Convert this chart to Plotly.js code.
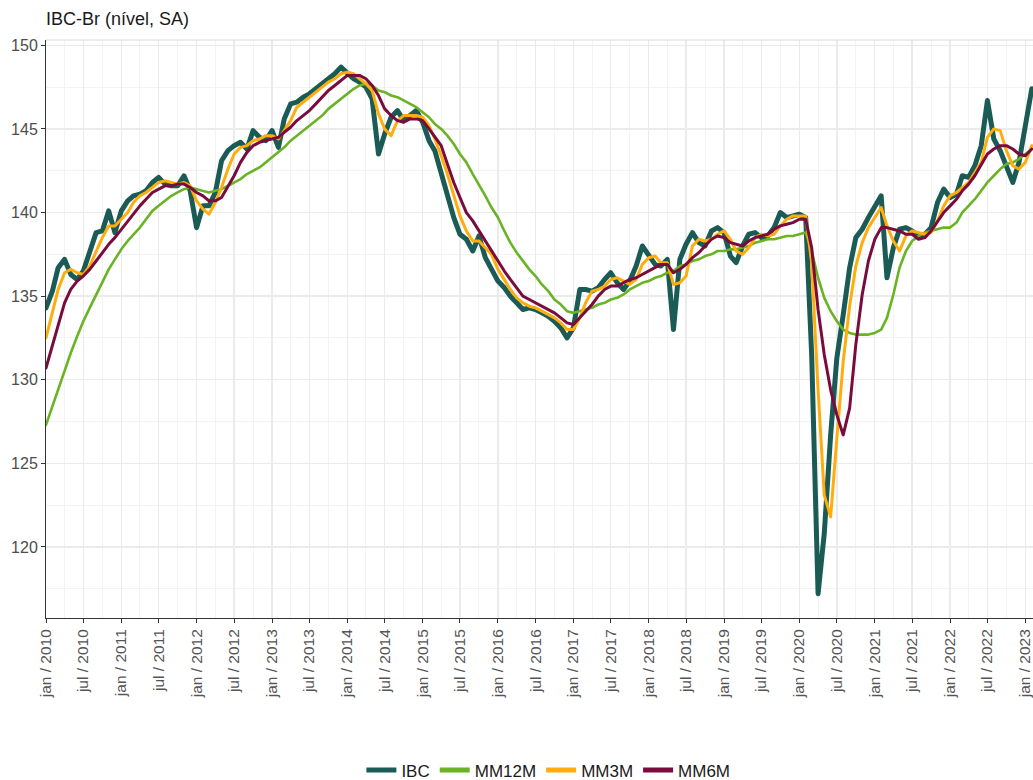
<!DOCTYPE html>
<html>
<head>
<meta charset="utf-8">
<script src="https://cdn.plot.ly/plotly-3.0.1.min.js"></script>
<style>
  html, body { margin: 0; padding: 0; background: #ffffff; }
  #chart { width: 1033px; height: 780px; }
  .scatterlayer path.js-line { stroke-linejoin: round; stroke-linecap: round; }
</style>
</head>
<body>
<div id="chart"></div>
<script>
// ---- Data (monthly, jan/2010 .. feb/2023) ----
const startYear = 2010;
const nMonths = 158;

const ibc = [
  134.3,135.3,136.7,137.2,136.3,136.0,136.5,137.6,138.8,138.9,140.1,138.8,
  140.1,140.7,141.0,141.1,141.3,141.8,142.1,141.7,141.6,141.6,142.2,141.3,
  139.1,140.4,140.4,141.2,143.1,143.7,144.0,144.2,143.8,144.9,144.5,144.3,
  144.9,143.9,145.6,146.5,146.6,146.9,147.1,147.4,147.7,148.0,148.3,148.7,
  148.3,148.0,147.8,147.5,146.8,143.5,144.7,145.7,146.1,145.5,145.8,146.1,
  145.4,144.3,143.7,142.4,140.9,139.7,138.7,138.4,137.7,138.6,137.3,136.6,
  135.9,135.5,135.0,134.6,134.2,134.3,134.2,134.0,133.8,133.5,133.1,132.5,
  133.1,135.4,135.4,135.3,135.5,136.0,136.4,135.8,135.4,135.9,136.8,138.0,
  137.4,136.9,136.8,137.2,133.0,137.2,138.1,138.8,138.2,138.0,138.9,139.1,
  138.8,137.4,137.0,138.0,138.7,138.8,138.5,138.6,139.1,140.0,139.7,139.8,
  139.9,139.7,131.5,117.2,120.8,126.7,131.3,133.9,136.7,138.5,139.0,139.7,
  140.4,141.0,136.1,137.9,139.0,139.1,138.9,138.6,138.7,139.1,140.6,141.4,
  140.9,141.1,142.2,142.1,142.8,144.0,146.7,144.4,143.7,142.8,141.8,143.0,
  145.4,147.4
];

const mm12m = [
  127.3,128.4,129.5,130.6,131.6,132.6,133.5,134.3,135.1,135.9,136.6,137.2,
  137.8,138.3,138.7,139.1,139.6,140.1,140.4,140.7,141.0,141.2,141.4,141.5,
  141.4,141.3,141.2,141.3,141.4,141.6,141.8,142.0,142.3,142.5,142.7,143.0,
  143.3,143.6,143.9,144.3,144.6,144.9,145.2,145.5,145.8,146.2,146.5,146.8,
  147.1,147.4,147.6,147.7,147.6,147.3,147.2,147.0,146.9,146.7,146.5,146.3,
  146.0,145.7,145.3,145.0,144.6,144.1,143.5,143.0,142.3,141.7,141.0,140.3,
  139.7,138.9,138.2,137.6,137.1,136.6,136.2,135.7,135.3,134.8,134.5,134.1,
  134.0,134.1,134.2,134.3,134.5,134.6,134.8,134.9,135.1,135.4,135.6,135.8,
  135.9,136.1,136.2,136.4,136.5,136.8,136.9,137.1,137.2,137.4,137.5,137.7,
  137.7,137.8,137.8,137.9,138.0,138.2,138.3,138.4,138.4,138.5,138.6,138.6,
  138.7,138.8,137.7,136.1,134.9,134.1,133.5,133.0,132.8,132.7,132.7,132.7,
  132.8,133.0,133.7,135.1,136.7,137.7,138.3,138.6,138.8,138.9,139.0,139.1,
  139.1,139.4,140.0,140.4,140.8,141.3,141.8,142.2,142.6,142.9,143.0,143.2,
  143.5,143.8
];

const mm3m = [
  132.5,134.0,135.4,136.4,136.6,136.4,136.3,136.8,137.7,138.5,139.2,139.2,
  139.6,140.0,140.6,141.0,141.2,141.5,141.8,141.9,141.8,141.7,141.8,141.6,
  140.7,140.2,139.9,140.6,141.5,142.6,143.5,143.9,144.0,144.3,144.4,144.6,
  144.6,144.4,144.9,145.5,146.3,146.6,146.9,147.2,147.5,147.8,148.0,148.3,
  148.4,148.3,148.0,147.7,147.3,145.9,145.0,144.6,145.5,145.8,145.8,145.8,
  145.7,145.2,144.4,143.4,142.3,141.0,139.8,138.9,138.3,138.3,137.9,137.5,
  136.6,136.0,135.4,134.9,134.6,134.4,134.3,134.1,133.9,133.7,133.4,133.0,
  133.0,133.7,134.6,135.3,135.4,135.6,136.0,136.1,135.9,135.7,136.0,136.9,
  137.3,137.4,137.0,137.0,135.7,135.8,136.2,138.0,138.4,138.3,138.4,138.7,
  138.9,138.4,137.7,137.5,137.9,138.5,138.7,138.6,138.7,139.2,139.6,139.8,
  139.8,139.8,137.0,129.4,123.1,121.8,126.5,131.1,134.4,136.8,138.2,139.1,
  139.7,140.3,139.2,138.3,137.7,138.6,138.9,138.8,138.7,138.8,139.5,140.4,
  141.0,141.2,141.5,141.8,142.4,143.0,144.5,145.0,144.9,143.7,142.8,142.6,
  143.0,144.0
];

const mm6m = [
  130.7,132.0,133.3,134.6,135.4,135.9,136.2,136.6,137.1,137.6,138.1,138.5,
  139.0,139.5,139.9,140.4,140.8,141.2,141.4,141.6,141.6,141.7,141.7,141.5,
  141.2,141.0,140.7,140.7,140.9,141.6,142.2,143.0,143.6,144.0,144.2,144.3,
  144.4,144.5,144.8,145.1,145.5,145.8,146.1,146.5,146.9,147.3,147.6,147.9,
  148.2,148.2,148.2,148.0,147.6,147.0,146.2,145.8,145.5,145.4,145.6,145.6,
  145.5,145.0,144.5,144.0,142.9,141.8,140.9,140.0,139.5,138.9,138.3,137.7,
  137.1,136.5,136.0,135.5,135.0,134.8,134.6,134.4,134.2,134.0,133.7,133.4,
  133.3,133.7,134.1,134.5,135.0,135.4,135.6,135.6,135.8,136.0,136.1,136.3,
  136.5,136.7,136.9,136.9,136.4,136.6,136.9,137.3,137.6,138.0,138.4,138.6,
  138.5,138.2,138.1,138.0,138.3,138.5,138.6,138.7,139.0,139.2,139.3,139.4,
  139.6,139.6,137.9,134.2,131.5,129.4,127.9,126.7,128.3,132.1,135.1,137.1,
  138.4,139.1,139.1,139.0,138.9,138.7,138.7,138.4,138.5,138.9,139.5,140.0,
  140.4,140.8,141.3,141.7,142.2,142.9,143.5,143.8,144.0,144.0,143.8,143.5,
  143.4,143.8
];

const seriesNames = ['IBC', 'MM12M', 'MM3M', 'MM6M'];
const tickMonths = ['jan', 'jul'];
const yTicks = [120, 125, 130, 135, 140, 145, 150];

// monthly date axis
const dates = [];
for (let i = 0; i < nMonths; i++) {
  const y = startYear + Math.floor(i / 12);
  const m = (i % 12) + 1;
  dates.push(y + '-' + String(m).padStart(2, '0') + '-01');
}
// tick labels "jan / 2010", "jul / 2010", ...
const tickVals = [], tickText = [];
for (let y = startYear; y <= 2023; y++) {
  tickMonths.forEach((mn, k) => {
    const d = y + '-' + (k === 0 ? '01' : '07') + '-01';
    if (d <= '2023-02-07') { tickVals.push(d); tickText.push(mn + ' / ' + y); }
  });
}

const colors = ['#1b5b55', '#69b324', '#ffad0d', '#7a0c3d'];
const widths = [5, 2.6, 3, 3];
const values = [ibc, mm12m, mm3m, mm6m];

const traces = values.map((v, i) => ({
  type: 'scatter', mode: 'lines', x: dates, y: v, name: seriesNames[i],
  line: { color: colors[i], width: widths[i] }, showlegend: false, hoverinfo: 'x+y+name'
}));
// legend entries (uniform thick swatches as in the original)
seriesNames.forEach((n, i) => traces.push({
  type: 'scatter', mode: 'lines', x: [null], y: [null], name: n,
  line: { color: colors[i], width: 5 }, showlegend: true
}));

const fontFam = '"Liberation Sans", Arial, sans-serif';
const layout = {
  width: 1033, height: 780,
  margin: { l: 46, r: 0, t: 40, b: 162, pad: 0, autoexpand: false },
  paper_bgcolor: '#ffffff', plot_bgcolor: '#ffffff',
  font: { family: fontFam, color: '#4d4d4d', size: 13 },
  title: {
    text: 'IBC-Br (nível, SA)', font: { family: fontFam, size: 18, color: '#1a1a1a' },
    xref: 'paper', x: 0, xanchor: 'left', yref: 'container', y: 1 - 19 / 780, yanchor: 'middle',
    automargin: false
  },
  showlegend: true,
  legend: {
    orientation: 'h', x: 0.509, xanchor: 'center', y: -0.2636, yanchor: 'middle',
    font: { family: fontFam, size: 17, color: '#1a1a1a' }, itemwidth: 30, bgcolor: 'rgba(0,0,0,0)'
  },
  xaxis: {
    type: 'date', range: ['2010-01-01', '2023-02-07'], automargin: false,
    tickmode: 'array', tickvals: tickVals, ticktext: tickText, tickangle: -90,
    tickfont: { family: fontFam, size: 15.5, color: '#555555' }, ticklabeloverflow: 'allow',
    ticks: 'outside', ticklen: 4, tickcolor: '#333333', tickwidth: 1,
    showline: true, linecolor: '#333333', linewidth: 1,
    showgrid: true, gridcolor: '#ebebeb', gridwidth: 1.4, zeroline: false
  },
  yaxis: {
    range: [115.75, 150.32], tickvals: yTicks, ticktext: yTicks.map(String), automargin: false,
    tickfont: { family: fontFam, size: 16, color: '#4d4d4d' },
    ticks: 'outside', ticklen: 4, tickcolor: '#333333', tickwidth: 1,
    showline: true, linecolor: '#333333', linewidth: 1,
    showgrid: true, gridcolor: '#ebebeb', gridwidth: 1.4, zeroline: false,
    minor: { dtick: 2.5, tick0: 0, showgrid: true, gridcolor: '#f3f3f3', gridwidth: 1, ticks: '' }
  },
  shapes: []
};
// quarterly minor vertical gridlines
layout.xaxis.minor = { dtick: 'M3', tick0: '2010-01-01', showgrid: true, gridcolor: '#f3f3f3', gridwidth: 1, ticks: '' };
// top panel border
layout.shapes.push({ type: 'line', xref: 'paper', yref: 'paper', x0: 0, x1: 1, y0: 1, y1: 1,
  line: { color: '#d9d9d9', width: 1 } });

Plotly.newPlot('chart', traces, layout, { displayModeBar: false, staticPlot: true });
</script>
</body>
</html>
